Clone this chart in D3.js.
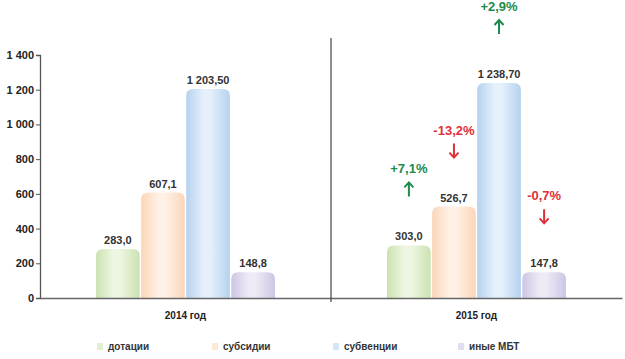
<!DOCTYPE html>
<html>
<head>
<meta charset="utf-8">
<script src="https://cdn.jsdelivr.net/npm/d3@7"></script>
<style>
  body { margin: 0; background: #fff; }
  text { font-family: "Liberation Sans", Arial, sans-serif; }
</style>
</head>
<body>
<div id="chart"></div>
<script>
// data
var years = ["2014 год", "2015 год"];
var kinds = ["дотации", "субсидии", "субвенции", "иные МБТ"];
var values2014 = [283.0, 607.1, 1203.5, 148.8];
var values2015 = [303.0, 526.7, 1238.7, 147.8];
var labels2014 = ["283,0", "607,1", "1 203,50", "148,8"];
var labels2015 = ["303,0", "526,7", "1 238,70", "147,8"];
var changes = ["+7,1%", "-13,2%", "+2,9%", "-0,7%"];
var yTicks = [0, 200, 400, 600, 800, 1000, 1200, 1400];

var baseColors = ["#cbe2b0", "#fbd6b8", "#b5d2ef", "#cdc5e5"];
var lightColors = ["#eef6e3", "#fff1e6", "#e6f0fb", "#eeebf6"];
var legColors = ["#e2efd4", "#fde8d8", "#d6e6f6", "#e2ddf0"];

var margin = {top: 55, right: 3, bottom: 61, left: 40},
    width = 625 - margin.left - margin.right,
    height = 359 - margin.top - margin.bottom;

var svg = d3.select("#chart")
  .append("svg")
    .attr("width", 625)
    .attr("height", 359)
  .append("g")
    .attr("transform", "translate(" + margin.left + "," + margin.top + ")");

// gradients to fake the cylinder look
var defs = svg.append("defs");
kinds.forEach(function(k, i) {
  var g = defs.append("linearGradient")
    .attr("id", "grad" + i)
    .attr("x1", "0%").attr("x2", "100%").attr("y1", "0%").attr("y2", "0%");
  g.append("stop").attr("offset", "0%").attr("stop-color", baseColors[i]);
  g.append("stop").attr("offset", "40%").attr("stop-color", lightColors[i]);
  g.append("stop").attr("offset", "55%").attr("stop-color", lightColors[i]);
  g.append("stop").attr("offset", "100%").attr("stop-color", baseColors[i]);
});

var x0 = d3.scaleBand()
  .domain(years)
  .range([0, width]);

var x1 = d3.scaleBand()
  .domain(kinds)
  .range([0, x0.bandwidth() * 0.615])
  .paddingInner(0.03);

var y = d3.scaleLinear()
  .domain([0, 1400])
  .range([height, 0]);

var data = years.map(function(yr, j) {
  var vals = j == 0 ? values2014 : values2015;
  var labs = j == 0 ? labels2014 : labels2015;
  return kinds.map(function(k, i) {
    return {year: yr, kind: k, i: i, value: vals[i], label: labs[i], change: j == 1 ? changes[i] : null};
  });
});

function barX(d) {
  return x0(d.year) + (x0.bandwidth() - x1.range()[1]) / 2 + x1(d.kind);
}
function barMid(d) { return barX(d) + x1.bandwidth() / 2; }

// bar with rounded top
function barPath(d) {
  var x = barX(d), w = x1.bandwidth(), top = y(d.value), bot = y(0), r = 7;
  return "M" + x + "," + bot +
    "V" + (top + r) +
    "Q" + x + "," + top + " " + (x + r) + "," + top +
    "H" + (x + w - r) +
    "Q" + (x + w) + "," + top + " " + (x + w) + "," + (top + r) +
    "V" + bot + "Z";
}

var groups = svg.selectAll(".grp")
  .data(data)
  .enter()
  .append("g")
    .attr("class", "grp");

groups.selectAll("path")
  .data(function(d) { return d; })
  .enter()
  .append("path")
    .attr("d", barPath)
    .attr("fill", function(d) { return "url(#grad" + d.i + ")"; });

// value labels
groups.selectAll(".val")
  .data(function(d) { return d; })
  .enter()
  .append("text")
    .attr("class", "val")
    .attr("x", barMid)
    .attr("y", function(d) { return y(d.value) - 5; })
    .attr("text-anchor", "middle")
    .style("font-size", "11px")
    .style("font-weight", "bold")
    .style("fill", "#333")
    .text(function(d) { return d.label; });

// change annotations for 2015
var ann = data[1];
function chgColor(d) { return d.change[0] == "+" ? "#1e8a4c" : "#e0303a"; }

svg.selectAll(".chg")
  .data(ann)
  .enter()
  .append("text")
    .attr("class", "chg")
    .attr("x", barMid)
    .attr("y", function(d) { return y(d.value) - 72; })
    .attr("text-anchor", "middle")
    .style("font-size", "13px")
    .style("font-weight", "bold")
    .style("fill", chgColor)
    .text(function(d) { return d.change; });

// arrows
svg.selectAll(".arr")
  .data(ann)
  .enter()
  .append("path")
    .attr("class", "arr")
    .attr("d", function(d) {
      var cx = barMid(d), t = y(d.value) - 63, b = y(d.value) - 49;
      if (d.change[0] == "+") {
        return "M" + cx + "," + b + "V" + (t + 1) +
          "M" + (cx - 4.5) + "," + (t + 5) + "L" + cx + "," + t + "L" + (cx + 4.5) + "," + (t + 5);
      }
      return "M" + cx + "," + t + "V" + (b - 1) +
        "M" + (cx - 4.5) + "," + (b - 5) + "L" + cx + "," + b + "L" + (cx + 4.5) + "," + (b - 5);
    })
    .attr("fill", "none")
    .attr("stroke", chgColor)
    .attr("stroke-width", 2);

// Y axis
var yAxis = svg.append("g")
  .call(d3.axisLeft(y).tickValues(yTicks).tickSize(4)
    .tickFormat(function(d) { return d3.format(",")(d).replace(/,/g, " "); }));
yAxis.select(".domain").attr("stroke", "#555").attr("stroke-width", 1.3);
yAxis.selectAll(".tick line").attr("stroke", "#555");
yAxis.selectAll("text")
  .style("font-size", "11px")
  .style("font-weight", "bold")
  .style("fill", "#222")
  .attr("x", -6);

// X axis
var xAxis = svg.append("g")
  .attr("transform", "translate(0," + height + ")")
  .call(d3.axisBottom(x0).tickSize(0).tickPadding(14));
xAxis.select(".domain").attr("stroke", "#666").attr("stroke-width", 1.5);
xAxis.selectAll("text")
  .style("font-size", "10px")
  .style("font-weight", "bold")
  .style("fill", "#222");

// divider between the years
svg.append("line")
  .attr("x1", x0(years[1])).attr("x2", x0(years[1]))
  .attr("y1", -17).attr("y2", height + 4)
  .attr("stroke", "#444")
  .attr("stroke-width", 1.2);

// legend
var legX = [57, 172, 293, 418];
var leg = svg.selectAll(".leg")
  .data(kinds)
  .enter()
  .append("g")
    .attr("class", "leg")
    .attr("transform", function(d, i) { return "translate(" + legX[i] + "," + (height + 52) + ")"; });
leg.append("rect")
  .attr("x", 0).attr("y", -7)
  .attr("width", 6).attr("height", 7)
  .attr("fill", function(d, i) { return legColors[i]; });
leg.append("text")
  .attr("x", 11)
  .attr("y", 0)
  .style("font-size", "10px")
  .style("font-weight", "bold")
  .style("fill", "#333")
  .text(function(d) { return d; });
</script>
</body>
</html>
